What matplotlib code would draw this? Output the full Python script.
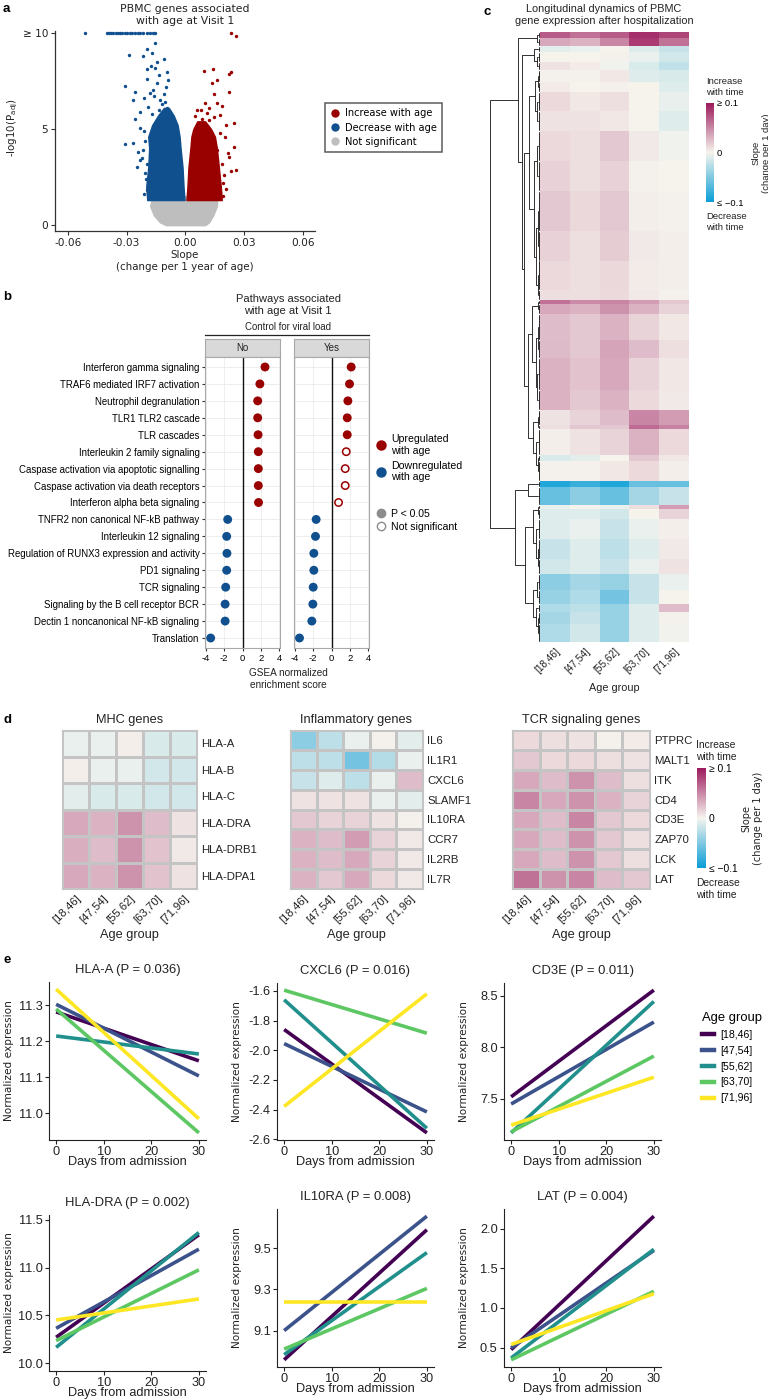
import numpy as np
import matplotlib
matplotlib.use("Agg")
import matplotlib.pyplot as plt
from matplotlib.colors import LinearSegmentedColormap, Normalize
from matplotlib.cm import ScalarMappable
from matplotlib.lines import Line2D
from matplotlib.collections import LineCollection
from matplotlib import font_manager

plt.rcParams['axes.unicode_minus'] = False
plt.rcParams['font.family'] = ['DejaVu Sans']


def pick_font(names):
    for n in names:
        try:
            font_manager.findfont(font_manager.FontProperties(family=n), fallback_to_default=False)
            return n
        except Exception:
            pass
    return 'DejaVu Sans'


ARIAL = pick_font(['Liberation Sans', 'Arial'])
NARROW = pick_font(['Liberation Sans Narrow', 'Arial Narrow', 'Liberation Sans'])

# ---------------- a: volcano ----------------
gray_lvl = [0.0, 0.15, 0.5, 1.0, 1.35, 1.5]
gray_lo = [-0.010, -0.013, -0.016, -0.018, -0.017, -0.012]
gray_hi = [0.010, 0.012, 0.014, 0.016, 0.016, 0.011]
blue_lvl = [1.3, 2.0, 3.0, 4.0, 4.6, 5.2, 5.7, 6.1]
blue_lo = [-0.0195, -0.0200, -0.0190, -0.0185, -0.0190, -0.0170, -0.0140, -0.0110]
blue_hi = [-0.0005, -0.0010, -0.0015, -0.0025, -0.0030, -0.0040, -0.0060, -0.0085]
red_lvl = [1.3, 2.0, 3.0, 4.0, 4.6, 5.0, 5.4]
red_lo = [0.0005, 0.0010, 0.0015, 0.0025, 0.0030, 0.0040, 0.0060]
red_hi = [0.0185, 0.0180, 0.0170, 0.0160, 0.0150, 0.0130, 0.0100]

blue_capped = [-0.0510, -0.0398, -0.0388, -0.0378, -0.0368, -0.0356, -0.0345, -0.0334,
               -0.0322, -0.0310, -0.0298, -0.0285, -0.0272, -0.0258, -0.0244, -0.0230,
               -0.0214, -0.0198, -0.0182, -0.0165, -0.0153]
blue_x = [-0.0153, -0.0194, -0.0170, -0.0112, -0.0215, -0.0289, -0.0146, -0.0153, -0.0194,
          -0.0092, -0.0087, -0.0194, -0.0146, -0.0306, -0.0165, -0.0255, -0.0180, -0.0112,
          -0.0210, -0.0265, -0.0128, -0.0189, -0.0133, -0.0092, -0.0231, -0.0170, -0.0255,
          -0.0230, -0.0210, -0.0270, -0.0306, -0.0240, -0.0220, -0.0230, -0.0194, -0.0245,
          -0.0204, -0.0168, -0.0194, -0.0120, -0.0160, -0.0100, -0.0135, -0.0175,
          -0.0205, -0.0215, -0.0200, -0.0210, -0.0105, -0.0095, -0.0125]
blue_y = [9.48, 9.17, 8.96, 8.64, 8.80, 8.85, 8.47, 8.18, 8.13,
          7.97, 7.55, 7.60, 7.40, 7.24, 7.05, 6.93, 6.85, 6.80,
          6.60, 6.50, 6.50, 6.15, 6.00, 5.90, 5.90, 5.80, 5.50,
          5.05, 4.90, 4.25, 4.20, 3.80, 3.50, 3.40, 3.20, 3.00,
          2.70, 2.20, 1.80, 6.30, 6.70, 7.20, 7.80, 8.30,
          4.40, 3.90, 2.40, 1.60, 6.40, 6.10, 5.80]
red_x = [0.0230, 0.0255, 0.0092, 0.0138, 0.0230, 0.0220, 0.0163, 0.0133, 0.0143, 0.0220,
         0.0097, 0.0160, 0.0187, 0.0077, 0.0108, 0.0143, 0.0177, 0.0245, 0.0204, 0.0051,
         0.0060, 0.0119, 0.0245, 0.0220, 0.0187, 0.0255, 0.0230, 0.0190, 0.0177, 0.0215,
         0.0160, 0.0200, 0.0175, 0.0195, 0.0190, 0.0205, 0.0085, 0.0120]
red_y = [10.0, 9.85, 8.00, 8.10, 7.97, 7.85, 7.55, 7.40, 6.80, 6.90,
         6.35, 6.35, 6.20, 6.00, 5.85, 5.60, 5.75, 5.30, 5.20, 5.70,
         6.00, 6.10, 4.06, 3.55, 3.20, 2.86, 2.80, 2.20, 1.70, 3.75,
         3.90, 4.60, 4.80, 2.60, 1.50, 1.90, 5.50, 5.45]

# ---------------- b: GSEA pathways ----------------
pathways = ['Interferon gamma signaling', 'TRAF6 mediated IRF7 activation',
            'Neutrophil degranulation', 'TLR1 TLR2 cascade', 'TLR cascades',
            'Interleukin 2 family signaling', 'Caspase activation via apoptotic signalling',
            'Caspase activation via death receptors', 'Interferon alpha beta signaling',
            'TNFR2 non canonical NF-kB pathway', 'Interleukin 12 signaling',
            'Regulation of RUNX3 expression and activity', 'PD1 signaling', 'TCR signaling',
            'Signaling by the B cell receptor BCR', 'Dectin 1 noncanonical NF-kB signaling',
            'Translation']
nes_no = [2.46, 1.90, 1.66, 1.66, 1.70, 1.73, 1.73, 1.73, 1.75,
          -1.62, -1.73, -1.70, -1.73, -1.84, -1.90, -1.90, -3.48]
nes_yes = [2.15, 1.97, 1.79, 1.72, 1.72, 1.61, 1.50, 1.50, 0.77,
           -1.68, -1.75, -1.93, -1.93, -2.00, -2.04, -2.15, -3.50]
sig_no = [True] * 17
sig_yes = [True] * 5 + [False] * 4 + [True] * 8

# ---------------- c: longitudinal heatmap ----------------
age_groups = ['[18,46]', '[47,54]', '[55,62]', '[63,70]', '[71,96]']
c_block_genes = [3, 4, 3, 5, 4, 6, 5, 10, 10, 15, 15, 20, 15, 15, 5, 2, 5, 13, 9, 16,
                 10, 8, 2, 13, 3, 10, 3, 9, 2, 5, 10, 10, 8, 8, 7, 4, 6, 9]
c_block_slope = [
    [0.070, 0.060, 0.070, 0.090, 0.080],
    [0.035, 0.030, 0.050, 0.085, 0.060],
    [-0.008, -0.005, 0.000, -0.010, -0.020],
    [0.000, 0.000, 0.002, -0.005, -0.015],
    [0.008, 0.004, -0.003, -0.012, -0.022],
    [0.002, 0.002, 0.006, -0.010, -0.012],
    [0.004, 0.000, 0.002, 0.000, -0.010],
    [0.012, 0.006, 0.010, 0.000, -0.006],
    [0.008, 0.008, 0.006, 0.000, -0.010],
    [0.012, 0.010, 0.020, 0.005, -0.003],
    [0.016, 0.010, 0.016, 0.002, 0.000],
    [0.020, 0.013, 0.020, 0.003, 0.002],
    [0.016, 0.010, 0.018, 0.005, 0.003],
    [0.012, 0.010, 0.013, 0.004, 0.003],
    [0.010, 0.010, 0.012, 0.005, 0.002],
    [0.060, 0.048, 0.050, 0.040, 0.020],
    [0.035, 0.030, 0.045, 0.030, 0.015],
    [0.025, 0.020, 0.030, 0.015, 0.006],
    [0.026, 0.020, 0.036, 0.025, 0.010],
    [0.030, 0.022, 0.035, 0.015, 0.006],
    [0.030, 0.020, 0.030, 0.012, 0.005],
    [0.008, 0.015, 0.025, 0.050, 0.040],
    [0.010, 0.020, 0.020, 0.062, 0.052],
    [0.003, 0.008, 0.015, 0.030, 0.012],
    [-0.012, -0.008, 0.000, 0.020, 0.006],
    [0.002, 0.002, 0.006, 0.012, 0.003],
    [-0.090, -0.080, -0.090, -0.060, -0.060],
    [-0.060, -0.045, -0.060, -0.035, -0.020],
    [-0.005, 0.000, -0.005, 0.010, 0.040],
    [-0.010, -0.010, -0.015, 0.000, 0.015],
    [-0.010, -0.005, -0.020, -0.005, 0.003],
    [-0.020, -0.010, -0.025, -0.010, 0.005],
    [-0.015, -0.010, -0.020, -0.005, 0.008],
    [-0.045, -0.035, -0.040, -0.020, -0.005],
    [-0.040, -0.030, -0.055, -0.020, 0.000],
    [-0.030, -0.025, -0.040, -0.010, 0.025],
    [-0.035, -0.020, -0.040, -0.010, 0.002],
    [-0.030, -0.015, -0.040, -0.010, -0.002],
]
# clustering tree over the blocks: (merge height, left, right)
c_tree = (1.0,
          (0.45, (0.06, 0, 1),
           (0.36, (0.12, 2, (0.06, 3, 4)),
            (0.33, (0.22, (0.10, (0.05, 5, 6), (0.06, 7, 8)),
                    (0.12, (0.06, 9, 10), (0.08, (0.05, 11, 12), (0.04, 13, 14)))),
             (0.245, (0.16, (0.05, 15, 16), (0.09, (0.05, 17, 18), (0.06, 19, 20))),
              (0.14, (0.05, 21, 22), (0.08, 23, (0.04, 24, 25))))))),
          (0.51, (0.245, 26, 27),
           (0.31, (0.14, (0.05, 28, 29), (0.08, 30, (0.05, 31, 32))),
            (0.14, (0.06, 33, 34), (0.08, 35, (0.04, 36, 37))))))

# ---------------- d: gene sets ----------------
mhc_genes = ['HLA-A', 'HLA-B', 'HLA-C', 'HLA-DRA', 'HLA-DRB1', 'HLA-DPA1']
mhc_slope = [[-0.005, -0.005, 0.003, -0.012, -0.012],
             [0.003, -0.005, -0.005, -0.015, -0.015],
             [-0.008, -0.012, -0.012, -0.015, -0.015],
             [0.035, 0.030, 0.045, 0.025, 0.008],
             [0.032, 0.025, 0.045, 0.022, 0.005],
             [0.035, 0.030, 0.045, 0.022, 0.008]]
infl_genes = ['IL6', 'IL1R1', 'CXCL6', 'SLAMF1', 'IL10RA', 'CCR7', 'IL2RB', 'IL7R']
infl_slope = [[-0.045, -0.025, -0.005, 0.002, -0.008],
              [-0.025, -0.025, -0.055, -0.028, -0.005],
              [-0.020, -0.010, -0.025, -0.005, 0.025],
              [0.008, 0.008, 0.008, -0.005, -0.008],
              [0.020, 0.015, 0.015, 0.008, 0.002],
              [0.030, 0.025, 0.040, 0.015, 0.005],
              [0.030, 0.025, 0.035, 0.015, 0.005],
              [0.030, 0.020, 0.035, 0.012, 0.005]]
tcr_genes = ['PTPRC', 'MALT1', 'ITK', 'CD4', 'CD3E', 'ZAP70', 'LCK', 'LAT']
tcr_slope = [[0.012, 0.010, 0.008, 0.002, 0.004],
             [0.020, 0.012, 0.012, 0.010, 0.008],
             [0.035, 0.025, 0.045, 0.025, 0.010],
             [0.050, 0.035, 0.045, 0.030, 0.015],
             [0.035, 0.025, 0.050, 0.020, 0.012],
             [0.035, 0.025, 0.045, 0.020, 0.010],
             [0.035, 0.025, 0.045, 0.020, 0.010],
             [0.060, 0.045, 0.050, 0.025, 0.020]]

# ---------------- e: fitted trajectories ----------------
days = [0, 30]
e_genes = ['HLA-A', 'CXCL6', 'CD3E', 'HLA-DRA', 'IL10RA', 'LAT']
e_pvals = ['0.036', '0.016', '0.011', '0.002', '0.008', '0.004']
e_start = {'HLA-A': [11.282, 11.303, 11.215, 11.290, 11.345],
           'CXCL6': [-1.860, -1.955, -1.660, -1.595, -2.378],
           'CD3E': [7.520, 7.450, 7.170, 7.180, 7.245],
           'HLA-DRA': [10.272, 10.366, 10.167, 10.237, 10.453],
           'IL10RA': [8.958, 9.100, 8.983, 9.010, 9.240],
           'LAT': [0.475, 0.496, 0.370, 0.347, 0.540]}
e_end = {'HLA-A': [11.146, 11.104, 11.165, 10.946, 10.985],
         'CXCL6': [-2.556, -2.415, -2.525, -1.885, -1.620],
         'CD3E': [8.555, 8.245, 8.445, 7.915, 7.710],
         'HLA-DRA': [11.343, 11.193, 11.367, 10.977, 10.673],
         'IL10RA': [9.590, 9.656, 9.479, 9.305, 9.240],
         'LAT': [2.157, 1.725, 1.740, 1.210, 1.180]}
e_yticks = {'HLA-A': [11.0, 11.1, 11.2, 11.3], 'CXCL6': [-2.6, -2.4, -2.2, -2.0, -1.8, -1.6],
            'CD3E': [7.5, 8.0, 8.5], 'HLA-DRA': [10.0, 10.5, 11.0, 11.5],
            'IL10RA': [9.1, 9.3, 9.5], 'LAT': [0.5, 1.0, 1.5, 2.0]}

# ---------------- styling ----------------
W, H = 768, 1399
RED = '#990000'
BLUE = '#10508F'
GREY = '#BEBEBE'
AGE_COLORS = ['#440154', '#3B528B', '#21908C', '#5DC863', '#FDE725']
slope_cmap = LinearSegmentedColormap.from_list(
    'slope', ['#0A9ED6', '#F6F4EE', '#9C1A5C'])
slope_norm = Normalize(-0.1, 0.1)

fig = plt.figure(figsize=(W / 100, H / 100), dpi=100)


def box(l, t, r, b):
    return [l / W, 1 - b / H, (r - l) / W, (b - t) / H]


def fx(x):
    return x / W


def fy(y):
    return 1 - y / H


def panel_label(x, y, s):
    fig.text(fx(x), fy(y), s, fontsize=9.5, fontweight='bold', ha='left', va='center',
             family=ARIAL)


# ======== panel a ========
panel_label(3, 9, 'a')
ax = fig.add_axes(box(55, 31, 315, 231))
ax.fill_betweenx(gray_lvl, gray_lo, gray_hi, color=GREY, lw=1.2, edgecolor=GREY)
ax.fill_betweenx(blue_lvl, blue_lo, blue_hi, color=BLUE, lw=1.0, edgecolor=BLUE)
ax.fill_betweenx(red_lvl, red_lo, red_hi, color=RED, lw=1.0, edgecolor=RED)
ax.scatter(blue_capped, [10] * len(blue_capped), s=6, color=BLUE, lw=0)
ax.scatter(blue_x, blue_y, s=6, color=BLUE, lw=0)
ax.scatter(red_x, red_y, s=6, color=RED, lw=0)
ax.set_xlim(-0.0665, 0.066)
ax.set_ylim(-0.31, 10.1)
ax.set_xticks([-0.06, -0.03, 0, 0.03, 0.06], ['-0.06', '-0.03', '0.00', '0.03', '0.06'])
ax.set_yticks([0, 5, 10], ['0', '5', '≥ 10'])
for s in ['top', 'right']:
    ax.spines[s].set_visible(False)
for s in ['left', 'bottom']:
    ax.spines[s].set_color('#333333')
    ax.spines[s].set_linewidth(0.9)
ax.tick_params(labelsize=7.6, length=3, color='#333333', labelcolor='#222222', pad=2)
fig.text(fx(185), fy(15), 'PBMC genes associated\nwith age at Visit 1', ha='center',
         va='center', fontsize=7.8, color='#222222')
fig.text(fx(185), fy(261), 'Slope\n(change per 1 year of age)', ha='center', va='center',
         fontsize=7.4, color='#222222')
fig.text(fx(13), fy(128), r'-log10(P$_{\mathrm{adj}}$)', rotation=90, ha='center',
         va='center', fontsize=7.4, color='#222222')
leg_a = fig.legend(
    handles=[Line2D([], [], marker='o', ls='', color=c, ms=5) for c in (RED, BLUE, GREY)],
    labels=['Increase with age', 'Decrease with age', 'Not significant'],
    loc='upper left', bbox_to_anchor=(fx(325), fy(103)), borderaxespad=0, fontsize=7.1,
    frameon=True, fancybox=False, borderpad=0.55, labelspacing=0.42, handletextpad=0.45,
    handlelength=1.0)
leg_a.get_frame().set_edgecolor('#333333')
leg_a.get_frame().set_linewidth(1.1)

# ======== panel b ========
panel_label(3, 297, 'b')
fig.text(fx(288), fy(305), 'Pathways associated\nwith age at Visit 1', ha='center',
         va='center', fontsize=8.0, family=ARIAL, color='#222222')
fig.text(fx(288), fy(327), 'Control for viral load', ha='center', va='center',
         fontsize=6.9, family=ARIAL, color='#222222')
fig.add_artist(Line2D([fx(205), fx(369)], [fy(335), fy(335)], color='#222222', lw=0.9))
ypos = np.arange(1, len(pathways) + 1)
facets = [('No', nes_no, sig_no, 205, 280), ('Yes', nes_yes, sig_yes, 294, 369)]
for k, (name, nes, sig, l, r) in enumerate(facets):
    st = fig.add_axes(box(l, 339, r, 357))
    st.set_facecolor('#D9D9D9')
    st.set_xticks([])
    st.set_yticks([])
    for s in st.spines.values():
        s.set_color('#A8A8A8')
        s.set_linewidth(0.8)
    st.text(0.5, 0.5, name, ha='center', va='center', fontsize=7.0, family=ARIAL,
            color='#222222', transform=st.transAxes)

    ax = fig.add_axes(box(l, 357, r, 648))
    ax.set_xlim(-4.1, 4.1)
    ax.set_ylim(len(pathways) + 0.59, 0.41)
    ax.set_xticks([-4, -2, 0, 2, 4])
    ax.set_yticks(ypos)
    ax.grid(True, color='#EBEBEB', lw=0.6)
    ax.set_axisbelow(True)
    ax.axvline(0, color='#111111', lw=1.0, zorder=1)
    cols = [RED if v > 0 else BLUE for v in nes]
    fill = [c if s else 'white' for c, s in zip(cols, sig)]
    ax.scatter(nes, ypos, s=28, facecolors=fill, edgecolors=cols, linewidths=1.1, zorder=3)
    for s in ax.spines.values():
        s.set_color('#A8A8A8')
        s.set_linewidth(0.8)
    ax.tick_params(axis='x', labelsize=6.8, length=2.5, pad=1.5, color='#333333',
                   labelfontfamily=ARIAL)
    if k == 0:
        ax.set_yticklabels(pathways)
        ax.tick_params(axis='y', labelsize=6.95, length=2.5, pad=1.5, color='#333333',
                       labelfontfamily=ARIAL)
    else:
        ax.set_yticklabels([])
        ax.tick_params(axis='y', length=0)
fig.text(fx(288), fy(679), 'GSEA normalized\nenrichment score', ha='center', va='center',
         fontsize=7.2, family=ARIAL, color='#222222')
fig.legend(handles=[Line2D([], [], marker='o', ls='', color=RED, ms=6.5),
                    Line2D([], [], marker='o', ls='', color=BLUE, ms=6.5)],
           labels=['Upregulated\nwith age', 'Downregulated\nwith age'],
           loc='upper left', bbox_to_anchor=(fx(377), fy(434)), borderaxespad=0,
           frameon=False, prop={'family': ARIAL, 'size': 7.6}, handlelength=0.8,
           handletextpad=0.55, labelspacing=0.5, borderpad=0)
fig.legend(handles=[Line2D([], [], marker='o', ls='', color='#8C8C8C', ms=6.0),
                    Line2D([], [], marker='o', ls='', markerfacecolor='white',
                           markeredgecolor='#8C8C8C', ms=6.0)],
           labels=['P < 0.05', 'Not significant'],
           loc='upper left', bbox_to_anchor=(fx(377), fy(509)), borderaxespad=0,
           frameon=False, prop={'family': ARIAL, 'size': 7.6}, handlelength=0.8,
           handletextpad=0.55, labelspacing=0.3, borderpad=0)

# ======== panel c ========
fig.text(fx(484), fy(12), 'c', fontsize=9.5, fontweight='bold', ha='left', va='center',
         family=ARIAL)
fig.text(fx(604), fy(15), 'Longitudinal dynamics of PBMC\ngene expression after hospitalization',
         ha='center', va='center', fontsize=7.8, family=ARIAL, color='#222222')
mat = np.repeat(np.array(c_block_slope), c_block_genes, axis=0)
n_rows = mat.shape[0]
axh = fig.add_axes(box(540, 32, 689, 642))
axh.pcolormesh(np.arange(6), np.arange(n_rows + 1), mat, cmap=slope_cmap, norm=slope_norm)
axh.set_ylim(n_rows, 0)
axh.set_xlim(0, 5)
axh.set_yticks([])
axh.set_xticks(np.arange(5) + 0.5)
axh.set_xticklabels(age_groups, rotation=45, ha='right', rotation_mode='anchor',
                    fontsize=7.2, family=ARIAL, color='#222222')
axh.tick_params(axis='x', length=0, pad=3)
for s in axh.spines.values():
    s.set_visible(False)
fig.text(fx(614), fy(688), 'Age group', ha='center', va='center', fontsize=7.8,
         family=ARIAL, color='#222222')

# dendrogram
axd = fig.add_axes(box(488, 32, 540, 642))
axd.set_xlim(1.04, 0)
axd.set_ylim(n_rows, 0)
axd.axis('off')
starts = np.concatenate([[0], np.cumsum(c_block_genes)])
leaf_h = 0.035
segs = []


def walk(node):
    if isinstance(node, int):
        y0, y1 = starts[node], starts[node + 1]
        for g in range(c_block_genes[node]):
            segs.append([(0, y0 + g + 0.5), (leaf_h * 0.6, y0 + g + 0.5)])
        segs.append([(leaf_h * 0.6, y0 + 0.5), (leaf_h * 0.6, y1 - 0.5)])
        segs.append([(leaf_h * 0.6, (y0 + y1) / 2), (leaf_h, (y0 + y1) / 2)])
        return (y0 + y1) / 2, leaf_h
    h, a, b = node
    ya, ha = walk(a)
    yb, hb = walk(b)
    segs.append([(ha, ya), (h, ya), (h, yb), (hb, yb)])
    return (ya + yb) / 2, h


walk(c_tree)
axd.add_collection(LineCollection(segs, colors='#111111', linewidths=0.6))

# colorbar c
cax = fig.add_axes(box(706, 103, 714, 202))
cb = fig.colorbar(ScalarMappable(norm=slope_norm, cmap=slope_cmap), cax=cax)
cb.outline.set_visible(False)
cb.set_ticks([-0.1, 0, 0.1], labels=['≤ −0.1', '0', '≥ 0.1'])
cax.tick_params(length=0, labelsize=6.8, pad=2)
for lab in cax.get_yticklabels():
    lab.set_family([ARIAL, 'DejaVu Sans'])
fig.text(fx(706), fy(87), 'Increase\nwith time', ha='left', va='center', fontsize=6.8,
         family=ARIAL, color='#222222')
fig.text(fx(706), fy(222), 'Decrease\nwith time', ha='left', va='center', fontsize=6.8,
         family=ARIAL, color='#222222')
fig.text(fx(761), fy(153), 'Slope\n(change per 1 day)', ha='center', va='center',
         rotation=90, fontsize=6.8, family=ARIAL, color='#222222')

# ======== panel d ========
panel_label(3, 720, 'd')
d_sets = [('MHC genes', mhc_genes, mhc_slope, 62, 197),
          ('Inflammatory genes', infl_genes, infl_slope, 290, 423),
          ('TCR signaling genes', tcr_genes, tcr_slope, 512, 650)]
for title, genes, vals, l, r in d_sets:
    ax = fig.add_axes(box(l, 730, r, 889))
    ax.pcolormesh(np.arange(6), np.arange(len(genes) + 1), np.array(vals), cmap=slope_cmap,
                  norm=slope_norm, edgecolors='#C4C4C4', linewidth=0.8)
    ax.set_ylim(len(genes), 0)
    ax.set_xlim(0, 5)
    ax.yaxis.tick_right()
    ax.set_yticks(np.arange(len(genes)) + 0.5)
    ax.set_yticklabels(genes, fontsize=8.2, family=NARROW, color='#222222')
    ax.set_xticks(np.arange(5) + 0.5)
    ax.set_xticklabels(age_groups, rotation=45, ha='right', rotation_mode='anchor',
                       fontsize=8.2, family=NARROW, color='#222222')
    ax.tick_params(length=0, pad=3)
    for s in ax.spines.values():
        s.set_color('#C4C4C4')
        s.set_linewidth(0.8)
    fig.text(fx((l + r) / 2), fy(720), title, ha='center', va='center', fontsize=9.2,
             family=NARROW, color='#222222')
    fig.text(fx((l + r) / 2), fy(935), 'Age group', ha='center', va='center', fontsize=9.2,
             family=NARROW, color='#222222')

cax = fig.add_axes(box(697, 768, 706, 868))
cb = fig.colorbar(ScalarMappable(norm=slope_norm, cmap=slope_cmap), cax=cax)
cb.outline.set_visible(False)
cb.set_ticks([-0.1, 0, 0.1], labels=['≤ −0.1', '0', '≥ 0.1'])
cax.tick_params(length=0, labelsize=7.4, pad=2)
for lab in cax.get_yticklabels():
    lab.set_family([NARROW, 'DejaVu Sans'])
fig.text(fx(696), fy(751), 'Increase\nwith time', ha='left', va='center', fontsize=7.4,
         family=NARROW, color='#222222')
fig.text(fx(696), fy(889), 'Decrease\nwith time', ha='left', va='center', fontsize=7.4,
         family=NARROW, color='#222222')
fig.text(fx(752), fy(818), 'Slope\n(change per 1 day)', ha='center', va='center',
         rotation=90, fontsize=7.0, family='DejaVu Sans', color='#222222')

# ======== panel e ========
panel_label(3, 960, 'e')
e_boxes = [(49, 982, 206, 1140), (277, 983, 434, 1140), (504, 983, 661, 1140),
           (49, 1215, 206, 1371), (277, 1209, 434, 1367), (504, 1209, 661, 1367)]
for gene, pv, (l, t, r, b) in zip(e_genes, e_pvals, e_boxes):
    ax = fig.add_axes(box(l, t, r, b))
    for c, y0, y1 in zip(AGE_COLORS, e_start[gene], e_end[gene]):
        ax.plot(days, [y0, y1], color=c, lw=2.6, solid_capstyle='butt')
    ax.margins(x=0.05, y=0.05)
    if gene == 'HLA-DRA':
        ax.set_ylim(9.92, 11.55)
    ax.set_xticks([0, 10, 20, 30])
    ax.set_yticks(e_yticks[gene])
    ax.set_yticklabels(['%.1f' % v for v in e_yticks[gene]])
    for s in ['top', 'right']:
        ax.spines[s].set_visible(False)
    for s in ['left', 'bottom']:
        ax.spines[s].set_color('#222222')
        ax.spines[s].set_linewidth(0.8)
    ax.tick_params(labelsize=9.2, length=3, pad=1.5, color='#222222', labelcolor='#222222',
                   labelfontfamily=NARROW)
    fig.text(fx((l + r) / 2), fy(t - 12), '%s (P = %s)' % (gene, pv), ha='center',
             va='center', fontsize=9.4, family=NARROW, color='#222222')
    fig.text(fx((l + r) / 2), fy(b + 22), 'Days from admission', ha='center', va='center',
             fontsize=9.2, family=NARROW, color='#222222')
    fig.text(fx(l - 40), fy((t + b) / 2), 'Normalized expression', rotation=90, ha='center',
             va='center', fontsize=7.6, color='#222222')

fig.legend(handles=[Line2D([], [], color=c, lw=3.2) for c in AGE_COLORS], labels=age_groups,
           title='Age group', loc='upper left', bbox_to_anchor=(fx(698), fy(1008)),
           borderaxespad=0, frameon=False, prop={'family': NARROW, 'size': 7.6},
           title_fontproperties={'family': NARROW, 'size': 9.4}, handlelength=1.1,
           handletextpad=0.6, labelspacing=0.55, alignment='left')

fig.savefig('out.png', dpi=100)
